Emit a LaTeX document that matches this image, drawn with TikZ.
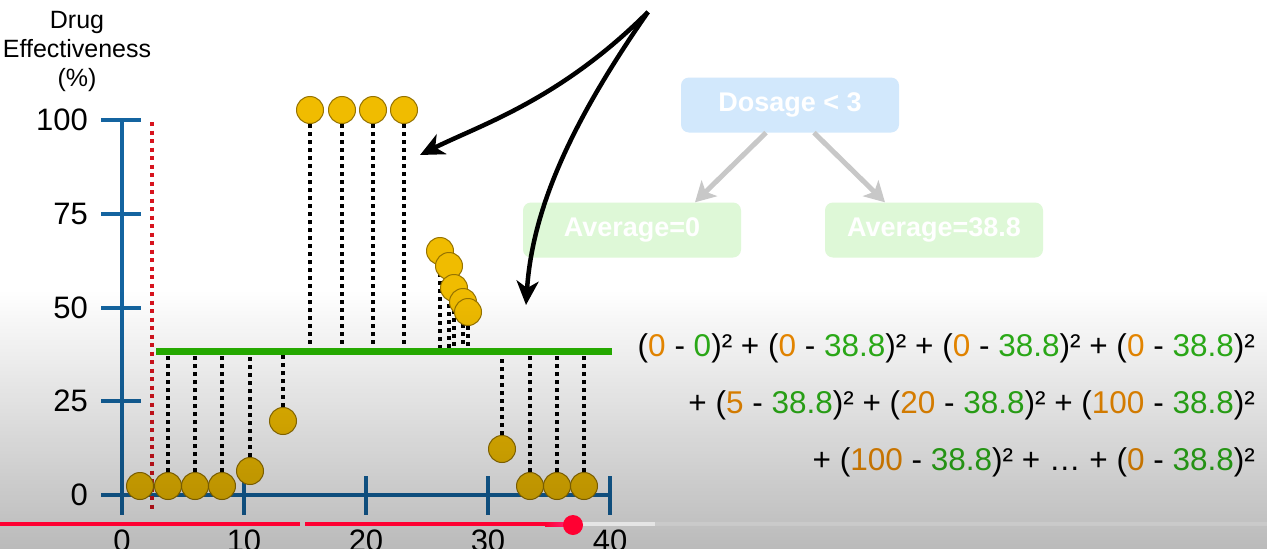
\documentclass[tikz,border=0pt]{standalone}
\usepackage{fontspec}
\setmainfont{Liberation Sans}
\usetikzlibrary{arrows.meta,fadings}
\definecolor{axisblue}{RGB}{20,100,160}
\definecolor{dotgold}{RGB}{240,188,0}
\definecolor{dotedge}{RGB}{150,115,0}
\definecolor{meangreen}{RGB}{40,180,0}
\definecolor{splitred}{RGB}{215,20,30}
\definecolor{boxblue}{RGB}{210,232,252}
\definecolor{boxgreen}{RGB}{222,248,215}
\definecolor{arrowgray}{RGB}{200,200,200}
\definecolor{obsorange}{RGB}{240,140,0}
\definecolor{avggreen}{RGB}{45,178,25}
\definecolor{barred}{RGB}{255,0,50}
\definecolor{barpink}{RGB}{255,40,130}
\newcommand{\obs}[1]{\textcolor{obsorange}{#1}}
\newcommand{\avg}[1]{\textcolor{avggreen}{#1}}

\begin{document}
\begin{tikzpicture}[x=1pt,y=-1pt,
    dot/.style={circle,draw=dotedge,fill=dotgold,line width=1pt,minimum size=27pt,inner sep=0pt},
    resid/.style={line width=3.5pt,dash pattern=on 4pt off 4pt},
    axis/.style={axisblue,line width=4pt},
    ticklabel/.style={inner sep=0pt,font=\fontsize{31}{31}\selectfont},
    treebox/.style={rounded corners=8pt,minimum width=218pt,minimum height=55pt,text=white,font=\bfseries\fontsize{27}{27}\selectfont},
    treearrow/.style={arrowgray,line width=5pt,-{Stealth[length=20pt,width=22pt,inset=5pt]}},
    callout/.style={line width=4.5pt,-{Stealth[length=24pt,width=22pt,inset=7pt]}},
    sumline/.style={anchor=base east,inner sep=0pt,font=\fontsize{31.5}{31.5}\selectfont}]
    \useasboundingbox (0,0) rectangle (1270,549);
    \fill[white] (0,0) rectangle (1270,549);

    % faded tree in the background
    \node[treebox,fill=boxblue] (root) at (790,105) {Dosage < 3};
    \node[treebox,fill=boxgreen] (left) at (632,230) {Average=0};
    \node[treebox,fill=boxgreen] (right) at (934,230) {Average=38.8};
    \draw[treearrow] ([xshift=-24pt]root.south) -- ([xshift=63pt]left.north);
    \draw[treearrow] ([xshift=24pt]root.south) -- ([xshift=-49pt]right.north);

    % axes
    \node[align=center,inner sep=0pt,font=\fontsize{25}{29}\selectfont] (ytitle) at (77,51) {Drug\\Effectiveness\\(\%)};
    \draw[axis] (122,118) -- (122,515);
    \draw[axis] (101,495) -- (610,495);
    \foreach \v in {0,25,50,75,100}{
        \draw[axis] (101,{495-3.75*\v}) -- (141,{495-3.75*\v});
        \node[ticklabel,anchor=east] (y\v) at (88,{495-3.75*\v}) {\v};
    }
    \foreach \v in {10,20,30,40}
        \draw[axis] ({122+12.2*\v},476) -- ({122+12.2*\v},515);
    \foreach \v in {0,10,20,30,40}
        \node[ticklabel,anchor=north] (x\v) at ({122+12.2*\v},530) {\v};

    % split at dosage < 3
    \coordinate (splitT) at (152,122);
    \coordinate (splitB) at (152,512);
    \draw[splitred,line width=4pt,dash pattern=on 4pt off 4.5pt] (splitT) -- (splitB);

    % data and residuals
    \node[dot] (p1) at (140,486) {};
    \foreach \n/\x/\y in {2/168/486,3/195/486,4/222/486,5/250/471,6/283/421,
                          7/310/110,8/342/110,9/373/110,10/404/110,
                          11/440/251,12/449/266,13/454/288,14/463/302,15/468/312,
                          16/502/449,17/530/486,18/557/486,19/584/486}{
        \node[dot] (p\n) at (\x,\y) {};
        \coordinate (f\n) at (\x,351);
        \draw[resid] (p\n) -- (f\n);
    }
    \coordinate (meanL) at (156,351);
    \coordinate (meanR) at (612,351);
    \draw[meangreen,line width=7pt] (meanL) -- (meanR);

    % callout arrows
    \coordinate (src) at (648,12);
    \coordinate (tipA) at (420,155);
    \coordinate (tipB) at (526,305);
    \draw[callout] (src) .. controls (560,100) and (480,125) .. (tipA);
    \draw[callout] (src) .. controls (580,110) and (533,200) .. (tipB);

    % sum of squared residuals
    \node[sumline] (sum1) at (1255,356) {(\obs{0} - \avg{0})² + (\obs{0} - \avg{38.8})² + (\obs{0} - \avg{38.8})² + (\obs{0} - \avg{38.8})²};
    \node[sumline] (sum2) at (1255,413) {+ (\obs{5} - \avg{38.8})² + (\obs{20} - \avg{38.8})² + (\obs{100} - \avg{38.8})²};
    \node[sumline] (sum3) at (1255,470) {+ (\obs{100} - \avg{38.8})² + \dots{} + (\obs{0} - \avg{38.8})²};

    % player shade and progress bar
    \fill[black,opacity=0.27,path fading=north] (0,290) rectangle (1270,549);
    \draw[barred,line width=4pt] (0,524) -- (300,524);
    \draw[barred,line width=4pt] (305,524) -- (545,524);
    \shade[left color=barred,right color=barpink] (545,522) rectangle (573,526);
    \draw[white!90!black,line width=4pt] (573,524) -- (655,524);
    \draw[white,opacity=0.15,line width=4pt] (655,524) -- (1270,524);
    \fill[barred] (573,525) circle (10pt);
\end{tikzpicture}
\end{document}
